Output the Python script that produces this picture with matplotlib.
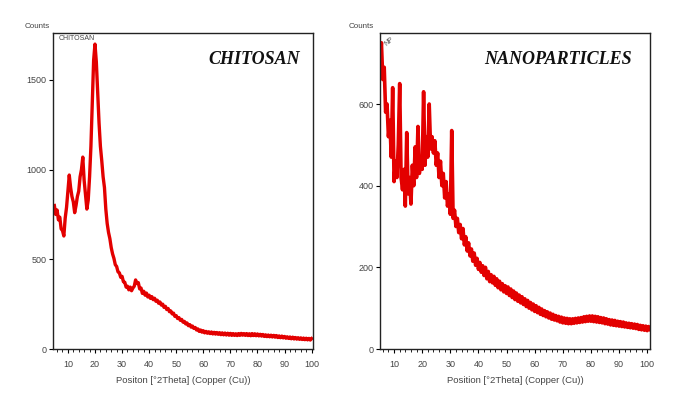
import numpy as np
import matplotlib
matplotlib.use("Agg")
import matplotlib.pyplot as plt
from matplotlib.ticker import MultipleLocator

# 2theta grid (0.5 deg steps) and counts
chitosan_2theta = np.arange(5.0, 100.01, 0.5)
chitosan_counts = [
    800, 750, 775, 720, 735, 670, 660, 630, 730, 790,      # 5.0 - 9.5
    880, 970, 900, 850, 820, 760, 800, 850, 880, 960,      # 10.0 - 14.5
    1000, 1070, 940, 860, 780, 830, 960, 1130, 1380, 1610,  # 15.0 - 19.5
    1700, 1600, 1430, 1260, 1130, 1050, 960, 900, 780, 700,  # 20.0 - 24.5
    650, 615, 565, 530, 505, 470, 460, 430, 425, 400,      # 25.0 - 29.5
    405, 375, 372, 345, 350, 330, 345, 325, 340, 350,      # 30.0 - 34.5
    385, 365, 370, 335, 340, 310, 322, 300, 312, 290,      # 35.0 - 39.5
    300, 282, 292, 275, 283, 266, 272, 255, 262, 245,      # 40.0 - 44.5
    250, 232, 238, 220, 226, 208, 212, 196, 200, 182,      # 45.0 - 49.5
    186, 170, 175, 160, 165, 150, 154, 140, 145, 130,      # 50.0 - 54.5
    136, 122, 128, 115, 120, 106, 112, 98, 106, 94,        # 55.0 - 59.5
    102, 90, 98, 88, 96, 86, 95, 84, 93, 83,               # 60.0 - 64.5
    92, 82, 91, 80, 90, 79, 89, 78, 88, 77,                # 65.0 - 69.5
    87, 76, 86, 76, 85, 75, 86, 76, 87, 77,                # 70.0 - 74.5
    86, 76, 86, 75, 85, 74, 86, 75, 85, 74,                # 75.0 - 79.5
    84, 73, 82, 72, 81, 70, 79, 69, 78, 68,                # 80.0 - 84.5
    77, 67, 76, 66, 75, 64, 73, 63, 72, 62,                # 85.0 - 89.5
    70, 60, 68, 59, 67, 57, 66, 56, 64, 55,                # 90.0 - 94.5
    63, 54, 62, 53, 61, 52, 60, 51, 59, 50,                # 95.0 - 99.5
    58,                                                    # 100.0
]

np_2theta = np.arange(5.0, 101.01, 0.5)
np_counts = [
    700, 750, 660, 690, 580, 600, 520, 560, 470, 640,      # 5.0 - 9.5
    410, 460, 420, 500, 650, 420, 390, 440, 350, 530,      # 10.0 - 14.5
    380, 420, 355, 450, 400, 495, 420, 545, 430, 470,      # 15.0 - 19.5
    440, 630, 450, 520, 470, 600, 490, 520, 480, 510,      # 20.0 - 24.5
    450, 480, 420, 460, 400, 430, 370, 410, 350, 380,      # 25.0 - 29.5
    330, 535, 320, 340, 300, 320, 285, 305, 270, 295,      # 30.0 - 34.5
    255, 275, 240, 260, 228, 245, 215, 235, 205, 222,      # 35.0 - 39.5
    195, 212, 188, 204, 180, 200, 172, 190, 165, 182,      # 40.0 - 44.5
    162, 178, 156, 172, 150, 166, 145, 160, 140, 155,      # 45.0 - 49.5
    136, 152, 131, 147, 126, 142, 121, 137, 117, 132,      # 50.0 - 54.5
    113, 128, 109, 123, 104, 119, 100, 114, 96, 110,       # 55.0 - 59.5
    92, 106, 89, 102, 85, 98, 82, 94, 79, 91,              # 60.0 - 64.5
    76, 88, 73, 85, 71, 82, 69, 80, 66, 78,                # 65.0 - 69.5
    64, 76, 63, 75, 62, 74, 62, 74, 63, 75,                # 70.0 - 74.5
    64, 76, 65, 77, 66, 79, 67, 80, 68, 81,                # 75.0 - 79.5
    68, 81, 67, 80, 66, 79, 65, 77, 64, 76,                # 80.0 - 84.5
    62, 74, 61, 72, 59, 71, 58, 70, 57, 68,                # 85.0 - 89.5
    56, 67, 55, 66, 54, 64, 53, 63, 52, 62,                # 90.0 - 94.5
    51, 61, 50, 60, 48, 58, 47, 57, 46, 56,                # 95.0 - 99.5
    45, 55, 48,                                            # 100.0 - 101.0
]

line_color = "#e30000"
text_color = "#444444"
plt.rcParams["font.family"] = ["Liberation Sans", "DejaVu Sans"]

fig = plt.figure(figsize=(6.77, 4.07), dpi=100)
ax1 = fig.add_axes([0.0783, 0.1425, 0.384, 0.7765])
ax2 = fig.add_axes([0.5613, 0.1425, 0.3988, 0.7765])


def style_axis(ax, xlim, ylim, ystep, xlabel):
    ax.set_xlim(*xlim)
    ax.set_ylim(*ylim)
    ax.xaxis.set_major_locator(MultipleLocator(10))
    ax.xaxis.set_minor_locator(MultipleLocator(2))
    ax.yaxis.set_major_locator(MultipleLocator(ystep))
    ax.tick_params(axis="both", which="major", direction="out", length=3,
                   width=0.8, labelsize=6.5, labelcolor=text_color, pad=1.5)
    ax.tick_params(axis="x", which="major", pad=5)
    ax.tick_params(axis="x", which="minor", direction="out", length=1.8, width=0.6)
    for s in ax.spines.values():
        s.set_linewidth(1.0)
        s.set_color("#222222")
    ax.set_xlabel(xlabel, fontsize=6.8, color=text_color, labelpad=5)


ax1.plot(chitosan_2theta, chitosan_counts, color=line_color, lw=2.4,
         solid_joinstyle="round")
style_axis(ax1, (4.5, 100.5), (0, 1762), 500, "Positon [°2Theta] (Copper (Cu))")
ax1.text(-0.11, 1.008, "Counts", transform=ax1.transAxes, fontsize=5.8,
         color=text_color, va="bottom", ha="left")
ax1.text(0.02, 0.995, "CHITOSAN", transform=ax1.transAxes, fontsize=5,
         color=text_color, va="top", ha="left")
ax1.text(0.95, 0.915, "CHITOSAN", transform=ax1.transAxes, fontsize=13,
         family="Liberation Serif", style="italic", weight="bold",
         ha="right", va="center", color="#111111")

ax2.plot(np_2theta, np_counts, color=line_color, lw=2.6,
         solid_joinstyle="round")
style_axis(ax2, (5, 101), (0, 774), 200, "Position [°2Theta] (Copper (Cu))")
ax2.text(-0.115, 1.008, "Counts", transform=ax2.transAxes, fontsize=5.8,
         color=text_color, va="bottom", ha="left")
ax2.text(0.012, 0.99, "NP", transform=ax2.transAxes, fontsize=5,
         color=text_color, va="top", ha="left", rotation=40)
ax2.text(0.933, 0.915, "NANOPARTICLES", transform=ax2.transAxes, fontsize=13,
         family="Liberation Serif", style="italic", weight="bold",
         ha="right", va="center", color="#111111")

fig.savefig("out.png", dpi=100)
